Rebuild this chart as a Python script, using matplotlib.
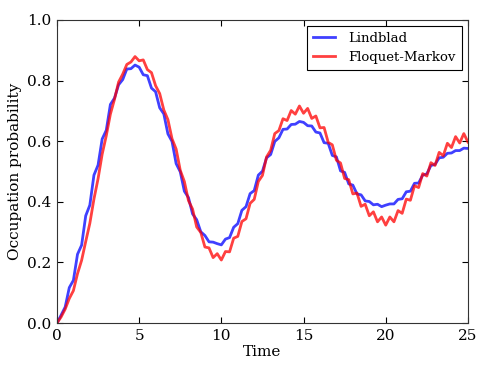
import numpy as np
import matplotlib
matplotlib.use('Agg')
import matplotlib.pyplot as plt

# Datos (paso de tiempo 0.25)
tiempo = np.arange(0, 25.01, 0.25)

lindblad = [
    0.000, 0.026, 0.053, 0.117, 0.141, 0.227, 0.257, 0.354, 0.389, 0.488,
    0.521, 0.607, 0.636, 0.721, 0.742, 0.786, 0.803, 0.838, 0.839, 0.851,
    0.844, 0.819, 0.816, 0.775, 0.763, 0.710, 0.690, 0.624, 0.599, 0.526,
    0.499, 0.435, 0.414, 0.360, 0.341, 0.301, 0.289, 0.268, 0.267, 0.262,
    0.258, 0.277, 0.282, 0.316, 0.328, 0.372, 0.384, 0.427, 0.437, 0.488,
    0.501, 0.545, 0.556, 0.599, 0.611, 0.639, 0.640, 0.655, 0.656, 0.665,
    0.662, 0.651, 0.650, 0.630, 0.627, 0.595, 0.593, 0.553, 0.548, 0.502,
    0.497, 0.459, 0.455, 0.426, 0.423, 0.403, 0.401, 0.390, 0.392, 0.384,
    0.389, 0.393, 0.393, 0.408, 0.410, 0.433, 0.435, 0.461, 0.462, 0.488,
    0.492, 0.520, 0.523, 0.545, 0.547, 0.560, 0.561, 0.569, 0.569, 0.577,
    0.576,
]

floquet_markov = [
    0.000, 0.020, 0.046, 0.081, 0.107, 0.163, 0.207, 0.269, 0.329, 0.409,
    0.476, 0.557, 0.618, 0.689, 0.738, 0.795, 0.821, 0.853, 0.861, 0.879,
    0.865, 0.868, 0.836, 0.826, 0.783, 0.757, 0.703, 0.671, 0.608, 0.574,
    0.504, 0.467, 0.404, 0.376, 0.317, 0.299, 0.251, 0.248, 0.216, 0.229,
    0.208, 0.236, 0.235, 0.280, 0.286, 0.335, 0.344, 0.395, 0.408, 0.467,
    0.487, 0.548, 0.570, 0.625, 0.635, 0.674, 0.668, 0.701, 0.689, 0.716,
    0.692, 0.708, 0.675, 0.683, 0.644, 0.645, 0.596, 0.588, 0.537, 0.528,
    0.477, 0.473, 0.426, 0.429, 0.385, 0.392, 0.354, 0.367, 0.334, 0.350,
    0.323, 0.350, 0.334, 0.371, 0.362, 0.409, 0.405, 0.453, 0.447, 0.493,
    0.485, 0.529, 0.520, 0.563, 0.552, 0.593, 0.579, 0.615, 0.594, 0.625,
    0.597,
]

plt.rcParams['font.family'] = 'DejaVu Serif'
plt.rcParams['font.size'] = 11

fig = plt.figure(figsize=(4.91, 3.68), dpi=100)
ax = fig.add_axes([0.116, 0.122, 0.837, 0.824])

ax.plot(tiempo, lindblad, color='b', alpha=0.75, linewidth=2, label='Lindblad')
ax.plot(tiempo, floquet_markov, color='r', alpha=0.75, linewidth=2, label='Floquet-Markov')

ax.set_xlim(0, 25)
ax.set_ylim(0, 1)
ax.set_yticks(np.arange(0, 1.01, 0.2))
ax.set_yticklabels(['%.1f' % v for v in np.arange(0, 1.01, 0.2)])
ax.set_xlabel('Time', labelpad=2)
ax.set_ylabel('Occupation probability', labelpad=4)
ax.tick_params(direction='in', top=True, right=True, length=4, pad=4)
for s in ax.spines.values():
    s.set_color('#333333')

leg = ax.legend(loc='upper right', fancybox=False, framealpha=1,
                edgecolor='black', fontsize=9.5, handlelength=1.7,
                borderpad=0.45, labelspacing=0.45, handletextpad=1.0,
                borderaxespad=0.45)
leg.get_frame().set_linewidth(0.8)

fig.savefig('out.png', dpi=100)
